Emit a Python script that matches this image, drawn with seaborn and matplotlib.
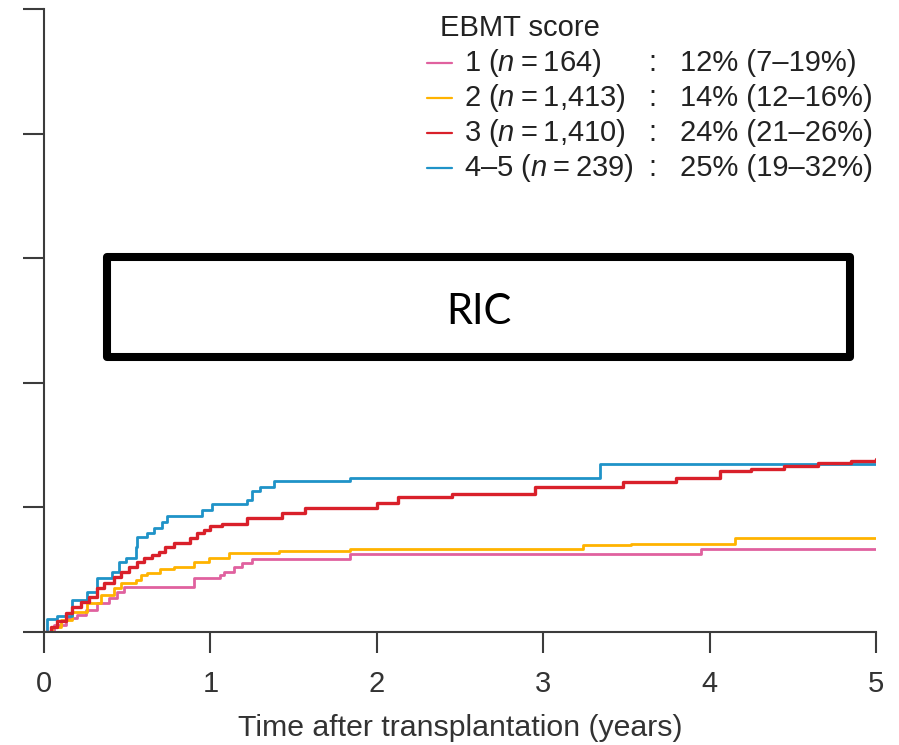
import matplotlib
matplotlib.use("Agg")
import matplotlib.pyplot as plt
from matplotlib.lines import Line2D
from matplotlib.patches import Rectangle
import numpy as np
import pandas as pd
import seaborn as sns

# Cumulative incidence step curves by EBMT score (time in years, fraction)
score1_t = [0, 0.06, 0.13, 0.20, 0.25, 0.32, 0.39, 0.44, 0.48, 0.90, 1.06, 1.08,
            1.14, 1.19, 1.25, 1.84, 3.95, 5.0]
score1_y = [0, 0.012, 0.022, 0.027, 0.035, 0.046, 0.055, 0.064, 0.072, 0.087, 0.091,
            0.096, 0.104, 0.111, 0.117, 0.125, 0.133, 0.133]

score2_t = [0, 0.05, 0.10, 0.17, 0.26, 0.34, 0.42, 0.46, 0.55, 0.58, 0.62, 0.70,
            0.78, 0.90, 0.99, 1.11, 1.41, 1.84, 3.24, 3.53, 4.15, 5.0]
score2_y = [0, 0.008, 0.020, 0.032, 0.046, 0.059, 0.070, 0.079, 0.083, 0.091, 0.095,
            0.101, 0.104, 0.112, 0.119, 0.127, 0.130, 0.134, 0.139, 0.142, 0.151, 0.151]

score3_t = [0, 0.04, 0.08, 0.13, 0.17, 0.22, 0.27, 0.32, 0.36, 0.42, 0.46, 0.51,
            0.56, 0.60, 0.65, 0.69, 0.73, 0.78, 0.88, 0.92, 0.96, 1.00, 1.07, 1.22,
            1.43, 1.57, 2.00, 2.13, 2.45, 2.95, 3.48, 3.80, 4.06, 4.25, 4.45, 4.65,
            4.85, 5.0]
score3_y = [0, 0.008, 0.018, 0.030, 0.040, 0.048, 0.056, 0.070, 0.079, 0.088, 0.096,
            0.104, 0.112, 0.119, 0.124, 0.128, 0.136, 0.143, 0.151, 0.159, 0.164,
            0.170, 0.174, 0.183, 0.191, 0.199, 0.207, 0.217, 0.221, 0.233, 0.241,
            0.247, 0.258, 0.262, 0.266, 0.271, 0.275, 0.278]

score45_t = [0, 0.02, 0.08, 0.17, 0.26, 0.32, 0.41, 0.45, 0.49, 0.55, 0.56, 0.62,
             0.66, 0.71, 0.74, 0.95, 1.01, 1.22, 1.25, 1.30, 1.38, 1.84, 3.34, 5.0]
score45_y = [0, 0.021, 0.026, 0.051, 0.064, 0.087, 0.096, 0.112, 0.119, 0.136, 0.152,
             0.159, 0.167, 0.177, 0.186, 0.196, 0.205, 0.212, 0.226, 0.233, 0.242,
             0.247, 0.270, 0.270]

groups = ["1", "2", "3", "4\u20135"]
group_n = ["164", "1,413", "1,410", "239"]
group_est = ["12% (7\u201319%)", "14% (12\u201316%)", "24% (21\u201326%)", "25% (19\u201332%)"]
colors = {"1": "#e0619f", "2": "#ffb300", "3": "#d9202a", "4\u20135": "#1f93c8"}

xticks = [0, 1, 2, 3, 4, 5]
yticks = [0, 0.2, 0.4, 0.6, 0.8, 1.0]

frames = []
for g, t, y in zip(groups, [score1_t, score2_t, score3_t, score45_t],
                   [score1_y, score2_y, score3_y, score45_y]):
    frames.append(pd.DataFrame({"time": t, "cuminc": y, "score": g}))
df = pd.concat(frames, ignore_index=True)

sns.set_style("ticks")
plt.rcParams["font.family"] = ["Liberation Sans", "DejaVu Sans"]
plt.rcParams["mathtext.fontset"] = "custom"
plt.rcParams["mathtext.it"] = "Liberation Sans:italic"
plt.rcParams["mathtext.rm"] = "Liberation Sans"

W, H = 899, 745
fig = plt.figure(figsize=(W / 100, H / 100), dpi=100)
ax = fig.add_axes([44 / W, 1 - 632 / H, (876 - 44) / W, (632 - 9) / H])


def fig_xy(px, py):
    return px / W, 1 - py / H


sns.lineplot(data=df, x="time", y="cuminc", hue="score",
             hue_order=["1", "2", "4\u20135", "3"], palette=colors,
             estimator=None, sort=False, drawstyle="steps-post",
             linewidth=2.0, legend=False, ax=ax)
for ln in ax.get_lines():
    if matplotlib.colors.to_hex(ln.get_color()) == colors["3"]:
        ln.set_linewidth(2.4)

ax.set_xlim(0, 5)
ax.set_ylim(0, 1)
ax.set_xticks(xticks)
ax.set_xticklabels([str(v) for v in xticks])
ax.set_yticks(yticks)
ax.tick_params(axis="y", labelleft=False)
ax.tick_params(axis="both", direction="out", length=15, width=1.5,
               color="#3c3c3c", labelsize=21, labelcolor="#333333", pad=12)
for side in ["top", "right"]:
    ax.spines[side].set_visible(False)
for side in ["left", "bottom"]:
    ax.spines[side].set_color("#3c3c3c")
    ax.spines[side].set_linewidth(1.5)
ax.set_xlabel("Time after transplantation (years)", fontsize=21.8,
              color="#333333", labelpad=12)
ax.set_ylabel("")

# Legend block
LEG_FS = 21
tx, ty = fig_xy(440, 28)
fig.text(tx, ty, "EBMT score", fontsize=LEG_FS, color="#222222", va="center", ha="left")
row_y = [63, 98, 133, 168]
for g, n, est, ry in zip(groups, group_n, group_est, row_y):
    x0, yy = fig_xy(427, ry)
    x1, _ = fig_xy(452, ry)
    fig.add_artist(Line2D([x0, x1], [yy, yy], color=colors[g], linewidth=1.6))
    lx, _ = fig_xy(464, ry)
    fig.text(lx, yy, f"{g} ($n$\u2009=\u2009" + n + ")", fontsize=LEG_FS,
             color="#222222", va="center", ha="left")
    cx, _ = fig_xy(652, ry)
    fig.text(cx, yy, ":", fontsize=LEG_FS, color="#222222", va="center", ha="center")
    px_, _ = fig_xy(680, ry)
    fig.text(px_, yy, est, fontsize=LEG_FS, color="#222222", va="center", ha="left")

# RIC label box
bx0, by0 = fig_xy(107, 357.5)
bw = (850 - 107) / W
bh = (357.5 - 257) / H
fig.add_artist(Rectangle((bx0, by0), bw, bh, transform=fig.transFigure,
                         fill=False, edgecolor="black", linewidth=5.8,
                         joinstyle="round"))
rx, ry_ = fig_xy(478.5, 312)
fig.text(rx, ry_, "RIC", fontsize=30, family=["Lato", "DejaVu Sans"],
         color="black", ha="center", va="center")

fig.savefig("out.png", dpi=100)
